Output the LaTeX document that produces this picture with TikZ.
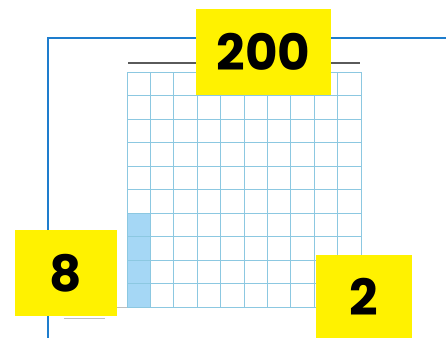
\documentclass[tikz,border=0pt]{standalone}
\usepackage{fontspec}
\newfontfamily\digitfont{Poppins}
\definecolor{framecol}{RGB}{30,125,205}
\definecolor{gridcol}{RGB}{140,200,225}
\definecolor{shadecol}{RGB}{165,215,245}
\definecolor{rulecol}{RGB}{90,90,90}
\definecolor{faintgray}{RGB}{190,190,190}
\tikzset{
  labelbox/.style={fill=yellow, inner sep=0pt, font=\digitfont\bfseries\fontsize{50}{50}\selectfont, text=black},
  gridline/.style={draw=gridcol, line width=0.9pt},
  framestyle/.style={draw=framecol, line width=2pt},
}
\begin{document}
\begin{tikzpicture}[x=1pt,y=-1pt]
\useasboundingbox (0,0) rectangle (446,337);
\fill[white] (0,0) rectangle (446,337);
\begin{scope}
\clip (0,0) rectangle (446,337);
\draw[framestyle] (48,340) -- (48,38) -- (450,38);
\end{scope}
% shaded cells
\fill[shadecol] (127,213) rectangle (150.4,307);
% grid
\foreach \i in {0,...,10} {
  \draw[gridline] ({127+\i*23.4},72) -- ({127+\i*23.4},307);
  \draw[gridline] (127,{72+\i*23.5}) -- (361,{72+\i*23.5});
}
% top rule
\draw[rulecol, line width=1.3pt] (128,63) -- (360,63);
% small marks
\draw[faintgray, line width=0.8pt] (64,318) -- (105,318);
\draw[faintgray, line width=0.8pt] (117,307) -- (127,307);
% labels
\node[labelbox, minimum width=135pt, minimum height=86pt] (top) at (263.5,52) {200};
\node[labelbox, minimum width=102pt, minimum height=86pt] (left) at (66,273) {8};
\node[labelbox, minimum width=96pt, minimum height=84pt] (right) at (364,297) {2};
\end{tikzpicture}
\end{document}
